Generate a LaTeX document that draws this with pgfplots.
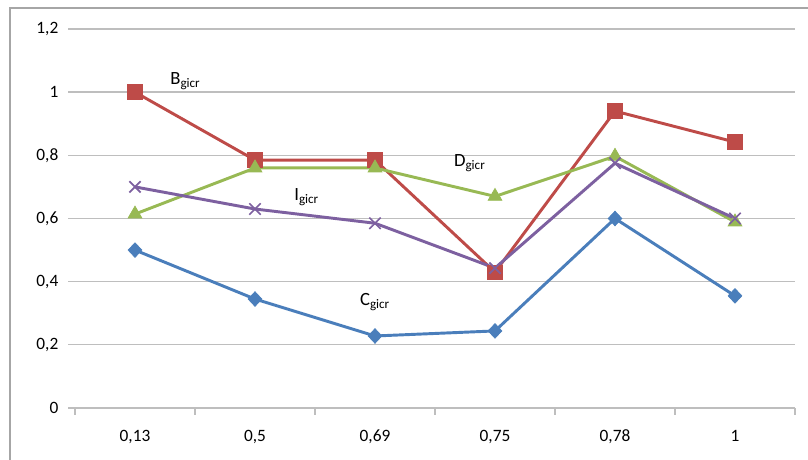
\documentclass[border=0pt]{standalone}
\usepackage{pgfplots}
\pgfplotsset{compat=1.18}
\usepackage{fontspec}
\setmainfont{Carlito}
\definecolor{cblue}{HTML}{4A7EBB}
\definecolor{cred}{HTML}{BE4B48}
\definecolor{cgreen}{HTML}{98B954}
\definecolor{cpurple}{HTML}{7D60A0}
\definecolor{gridc}{RGB}{190,190,190}
\begin{document}
\begin{tikzpicture}[x=0.75pt,y=0.75pt]
\path[use as bounding box] (0,0) rectangle (808,460);
\draw[gray!70, line width=1.2pt] (10,0) -- (10,452) -- (808,452);
\begin{axis}[
  at={(56.25pt,39pt)}, anchor=south west,
  scale only axis, width=540pt, height=284.25pt,
  xmin=-0.5, xmax=5.5, ymin=0, ymax=1.2,
  axis lines*=left,
  axis line style={draw=gridc, line width=1pt},
  y axis line style={draw=none},
  xtick={-0.5,0.5,1.5,2.5,3.5,4.5,5.5},
  x tick label as interval,
  xticklabels={{0,13},{0,5},{0,69},{0,75},{0,78},{1}},
  major tick length=5pt,
  ytick={0,0.2,...,1.2},
  yticklabel style={/pgf/number format/use comma, /pgf/number format/fixed, /pgf/number format/precision=1, xshift=-4pt},
  ymajorgrids,
  grid style={draw=gridc, line width=1pt},
  tick style={draw=gridc, line width=1pt},
  tick align=outside,
  /pgf/number format/assume math mode=true,
  ticklabel style={font=\fontsize{13}{15}\selectfont},
  xticklabel style={yshift=-8pt},
  clip=false,
]
\addplot[cblue, line width=2.2pt, mark=diamond*, mark size=5.5pt, mark options={fill=cblue, draw=cblue, line width=0.5pt, xscale=1.25}]
 coordinates {(0,0.50) (1,0.345) (2,0.228) (3,0.244) (4,0.600) (5,0.355)};
\addplot[cred, line width=2.2pt, mark=square*, mark size=5.5pt, mark options={fill=cred, draw=cred, line width=0.5pt}]
 coordinates {(0,1.00) (1,0.785) (2,0.785) (3,0.430) (4,0.940) (5,0.842)};
\addplot[cgreen, line width=2.2pt, mark=triangle*, mark size=6pt, mark options={fill=cgreen, draw=cgreen, line width=0.5pt}]
 coordinates {(0,0.614) (1,0.760) (2,0.760) (3,0.670) (4,0.797) (5,0.589)};
\addplot[cpurple, line width=2.2pt, mark=x, mark size=6pt, mark options={draw=cpurple, line width=1.3pt}]
 coordinates {(0,0.700) (1,0.630) (2,0.585) (3,0.443) (4,0.775) (5,0.600)};
\node[font=\fontsize{14}{16}\selectfont] at (axis cs:0.42,1.035) {B\textsubscript{gicr}};
\node[font=\fontsize{14}{16}\selectfont] at (axis cs:2.79,0.776) {D\textsubscript{gicr}};
\node[font=\fontsize{14}{16}\selectfont] at (axis cs:1.43,0.668) {I\textsubscript{gicr}};
\node[font=\fontsize{14}{16}\selectfont] at (axis cs:2.0,0.336) {C\textsubscript{gicr}};
\end{axis}
\end{tikzpicture}
\end{document}
